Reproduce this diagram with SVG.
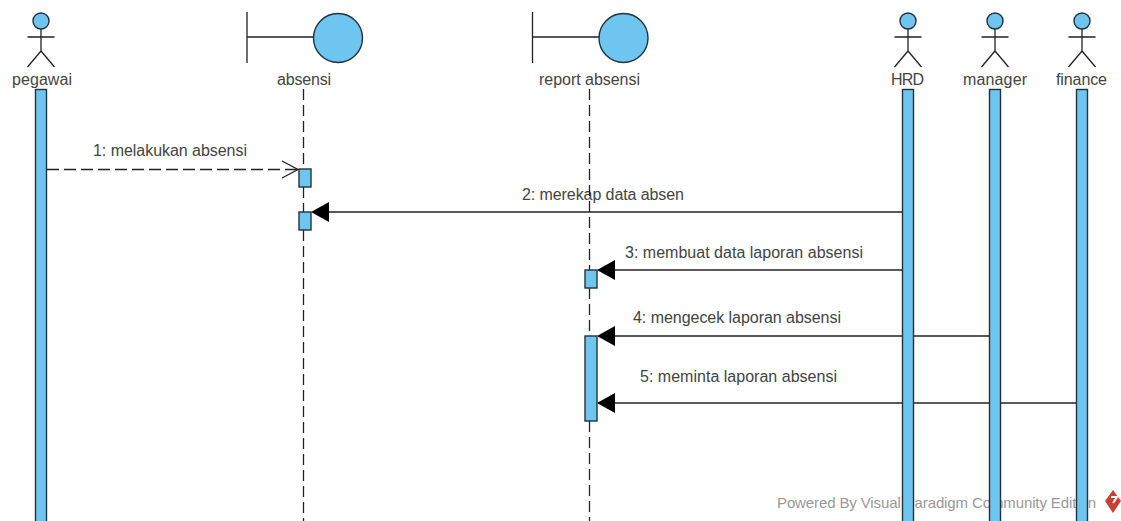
<svg xmlns="http://www.w3.org/2000/svg" width="1121" height="521" viewBox="0 0 1121 521">
<style>
text{font-family:"Liberation Sans",Arial,sans-serif;font-size:16px;fill:#444}
.f{fill:#6ec6f0;stroke:#23323c;stroke-width:1.4}
.l{fill:none;stroke:#222;stroke-width:1.3}
.life{fill:none;stroke:#222;stroke-width:1.3;stroke-dasharray:11 5}
.msg{fill:none;stroke:#222;stroke-width:1.3}
</style>
<defs>
<g id="actor"><circle class="f" cx="0" cy="21" r="8"/><path class="l" d="M0 29V51M-13.500 37H13.500M0 51L-13.500 67M0 51L13.500 67"/></g>
<g id="boundary"><path class="l" d="M0 12V63M0 37H67"/><circle class="f" cx="91" cy="38" r="24.500"/></g>
</defs>
<g id="watermark"><text x="777" y="508" textLength="319" style="fill:#999;font-size:15px">Powered By Visual Paradigm Community Edition</text><path d="M1113 490L1121 501L1113 513L1105 501Z" fill="#c8402f"/><path d="M1111 497H1117L1113 503" fill="none" stroke="#fff" stroke-width="2"/></g>
<g id="connectors">
<path class="msg" d="M47 169.500H298" stroke-dasharray="12 5"/>
<path class="l" d="M282 161L298 169.500L282 178"/>
<path class="msg" d="M902 212H329"/><path d="M311 212L329 202V222Z" fill="#000"/>
<path class="msg" d="M902 270H615"/><path d="M597 270L615 260V280Z" fill="#000"/>
<path class="msg" d="M989 336H615"/><path d="M597 336L615 326V346Z" fill="#000"/>
<path class="msg" d="M1076 403H615"/><path d="M597 403L615 393V413Z" fill="#000"/>
<text x="93" y="156" textLength="154">1: melakukan absensi</text>
<text x="522" y="200" textLength="162">2: merekap data absen</text>
<text x="625" y="258" textLength="238">3: membuat data laporan absensi</text>
<text x="633" y="323" textLength="208">4: mengecek laporan absensi</text>
<text x="640" y="382" textLength="197">5: meminta laporan absensi</text>
</g>
<g id="pegawai"><use href="#actor" x="41"/><text x="12" y="85" textLength="60">pegawai</text><rect class="f" x="35.500" y="89.500" width="11" height="440"/></g>
<g id="absensi"><use href="#boundary" x="247"/><text x="277" y="85" textLength="54">absensi</text><path class="life" d="M303.500 89V169M303.500 187V212M303.500 230V521"/><rect class="f" x="299" y="169" width="12" height="18"/><rect class="f" x="299" y="212" width="12" height="18"/></g>
<g id="report-absensi"><use href="#boundary" x="532.500"/><text x="539" y="85" textLength="101">report absensi</text><path class="life" d="M589.500 89V270M589.500 288V336M589.500 421V521"/><rect class="f" x="585" y="270" width="12" height="18"/><rect class="f" x="585" y="336" width="12" height="85"/></g>
<g id="HRD"><use href="#actor" x="908"/><text x="891" y="85" textLength="33">HRD</text><rect class="f" x="902.500" y="89.500" width="11" height="440"/></g>
<g id="manager"><use href="#actor" x="995"/><text x="963" y="85" textLength="64">manager</text><rect class="f" x="989.500" y="89.500" width="11" height="440"/></g>
<g id="finance"><use href="#actor" x="1082"/><text x="1056" y="85" textLength="51">finance</text><rect class="f" x="1076.500" y="89.500" width="11" height="440"/></g>
</svg>
